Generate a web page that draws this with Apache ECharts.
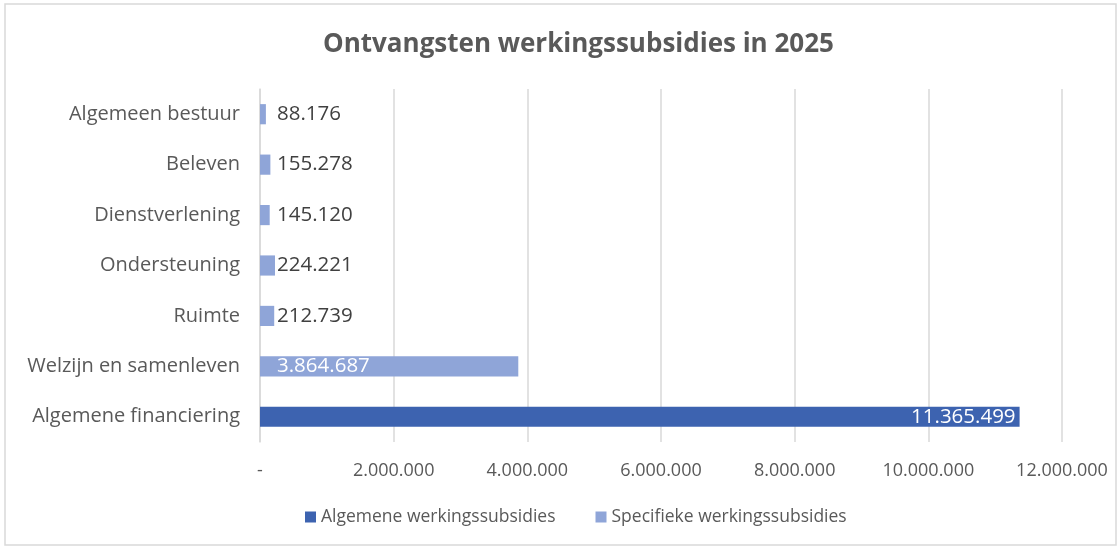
<!DOCTYPE html>
<html><head><meta charset="utf-8">
<script src="https://cdn.jsdelivr.net/npm/echarts@6/dist/echarts.min.js"></script>
<style>html,body{margin:0;padding:0;background:#fff}#c{width:1118px;height:549px}</style>
</head><body><div id="c"></div>
<script>
const categories = ['Algemene financiering','Welzijn en samenleven','Ruimte','Ondersteuning','Dienstverlening','Beleven','Algemeen bestuur'];
const algemene = [11365499, null, null, null, null, null, null];
const specifieke = [null, 3864687, 212739, 224221, 145120, 155278, 88176];
const xTicks = [0, 2000000, 4000000, 6000000, 8000000, 10000000, 12000000];

const fmt = v => v === 0 ? '-' : String(v).replace(/\B(?=(\d{3})+(?!\d))/g, '.');
const FONT = '"Open Sans", "Liberation Sans", sans-serif';
const chart = echarts.init(document.getElementById('c'));
chart.setOption({
  animation: false,
  textStyle: {fontFamily: FONT},
  graphic: [{type:'rect', shape:{x:5,y:4,width:1111,height:541}, style:{fill:'none', stroke:'#d9d9d9', lineWidth:1.5}}],
  title: {text:'Ontvangsten werkingssubsidies in 2025', left:318, top:27,
    textStyle:{fontSize:26, fontWeight:'bold', color:'#595959', fontFamily: FONT}},
  legend: {bottom:18, left:300, itemWidth:11, itemHeight:11, itemGap:40, icon:'rect',
    textStyle:{fontSize:17.5, color:'#595959'}},
  grid: {left:260, right:56, top:89, bottom:107, containLabel:false},
  xAxis: {type:'value', min:0, max:12000000, interval:2000000,
    axisLine:{show:false}, axisTick:{show:false},
    splitLine:{lineStyle:{color:'#d9d9d9', width:1.5}},
    axisLabel:{formatter: v => fmt(v), fontSize:18, color:'#595959', margin:20}},
  yAxis: {type:'category', data:categories,
    axisLine:{show:true, lineStyle:{color:'#d9d9d9', width:1.5}}, axisTick:{show:false},
    axisLabel:{fontSize:20, color:'#595959', margin:20}},
  series: [
    {name:'Algemene werkingssubsidies', type:'bar', stack:'t', data:algemene, barWidth:'40%',
      itemStyle:{color:'#3d63b0'},
      label:{show:true, position:'insideRight', distance:4, color:'#fff', fontSize:20.5, formatter:p=>fmt(p.value)}},
    {name:'Specifieke werkingssubsidies', type:'bar', stack:'t', barWidth:'40%',
      data: specifieke.map(v => v == null ? null : {value:v, label:{color: v > 1000000 ? '#fff' : '#404040'}}),
      itemStyle:{color:'#8fa5d8'},
      label:{show:true, position:'insideLeft', distance:0, offset:[17,0], fontSize:20.5, formatter:p=>fmt(p.value)}}
  ]
});
</script></body></html>
